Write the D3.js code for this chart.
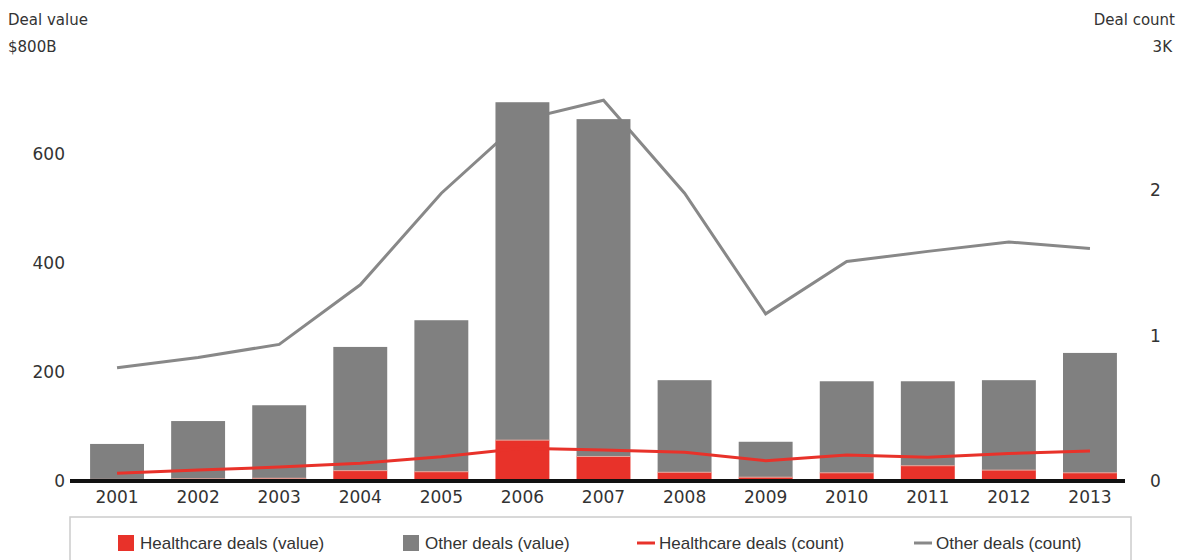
<!DOCTYPE html>
<html lang="en">
<head>
  <meta charset="UTF-8">
  <title>Deal value and count</title>
  <style>
    body { margin: 0; background: #fff; }
    svg { display: block; }
    text { font-family: "DejaVu Sans", sans-serif; fill: #333; }
    .legend text { font-family: "Liberation Sans Narrow", "Liberation Sans", sans-serif; font-size: 17px; }
  </style>
</head>
<body>
  <svg width="1190" height="560"></svg>
  <script src="https://d3js.org/d3.v7.min.js"></script>
  <script>
    const years = ["2001","2002","2003","2004","2005","2006","2007","2008","2009","2010","2011","2012","2013"];
    // deal value, $B
    const healthcareValue = [3, 4, 5, 19, 17, 75, 45, 16, 7, 15, 28, 20, 15];
    const otherValue = [65, 106, 134, 227, 278, 620, 619, 169, 65, 168, 155, 165, 220];
    // deal count, thousands
    const healthcareCount = [0.053, 0.076, 0.096, 0.122, 0.167, 0.225, 0.213, 0.197, 0.14, 0.179, 0.163, 0.19, 0.206];
    const otherCount = [0.78, 0.85, 0.94, 1.35, 1.98, 2.485, 2.62, 1.98, 1.15, 1.51, 1.58, 1.645, 1.60];
    const leftTicks = [0, 200, 400, 600];
    const rightTicks = [0, 1, 2];

    const red = "#e8322a";
    const grey = "#808080";
    const lineGrey = "#888";

    const svg = d3.select("svg");
    const baseY = 481, topY = 45;

    const x = d3.scaleBand().domain(years).range([76.5, 1130.5])
      .paddingInner(0.335).paddingOuter(0.1675);
    const yL = d3.scaleLinear().domain([0, 800]).range([baseY, topY]);
    const yR = d3.scaleLinear().domain([0, 3]).range([baseY, topY]);

    const rows = years.map((yr, i) => ({
      year: yr, hc: healthcareValue[i], other: otherValue[i],
      hcCount: healthcareCount[i], otherCount: otherCount[i]
    }));

    // left ticks
    svg.append("g").selectAll("text").data(leftTicks).join("text")
      .attr("x", 65).attr("y", d => yL(d)).attr("dy", "0.35em")
      .attr("text-anchor", "end").attr("font-size", 17)
      .text(d => d);
    // right ticks
    svg.append("g").selectAll("text").data(rightTicks).join("text")
      .attr("x", 1150).attr("y", d => yR(d)).attr("dy", "0.35em")
      .attr("text-anchor", "start").attr("font-size", 17)
      .text(d => d);

    svg.append("text").attr("x", 8).attr("y", 25).attr("font-size", 15).text("Deal value");
    svg.append("text").attr("x", 8).attr("y", 52).attr("font-size", 15).text("$800B");
    svg.append("text").attr("x", 1175).attr("y", 25).attr("font-size", 15)
      .attr("text-anchor", "end").text("Deal count");
    svg.append("text").attr("x", 1172).attr("y", 52).attr("font-size", 15)
      .attr("text-anchor", "end").text("3K");

    const cx = d => x(d.year) + x.bandwidth() / 2;

    // other count line (behind bars)
    svg.append("path").datum(rows)
      .attr("fill", "none").attr("stroke", lineGrey).attr("stroke-width", 3)
      .attr("d", d3.line().x(cx).y(d => yR(d.otherCount)));

    // stacked bars
    const bars = svg.append("g");
    bars.selectAll("rect.other").data(rows).join("rect")
      .attr("class", "other")
      .attr("x", d => x(d.year)).attr("width", x.bandwidth())
      .attr("y", d => yL(d.hc + d.other))
      .attr("height", d => yL(d.hc) - yL(d.hc + d.other))
      .attr("fill", grey);
    bars.selectAll("rect.hc").data(rows).join("rect")
      .attr("class", "hc")
      .attr("x", d => x(d.year)).attr("width", x.bandwidth())
      .attr("y", d => yL(d.hc))
      .attr("height", d => yL(0) - yL(d.hc))
      .attr("fill", red);
    bars.selectAll("line.sep").data(rows).join("line")
      .attr("class", "sep")
      .attr("x1", d => x(d.year)).attr("x2", d => x(d.year) + x.bandwidth())
      .attr("y1", d => yL(d.hc)).attr("y2", d => yL(d.hc))
      .attr("stroke", "#e0a89e").attr("stroke-width", 1);

    // healthcare count line
    svg.append("path").datum(rows)
      .attr("fill", "none").attr("stroke", red).attr("stroke-width", 3)
      .attr("d", d3.line().x(cx).y(d => yR(d.hcCount)));

    // baseline
    svg.append("line").attr("x1", 70).attr("x2", 1125)
      .attr("y1", baseY).attr("y2", baseY)
      .attr("stroke", "#111").attr("stroke-width", 4);

    // x labels
    svg.append("g").selectAll("text").data(years).join("text")
      .attr("x", d => x(d) + x.bandwidth() / 2).attr("y", 497).attr("dy", "0.35em")
      .attr("text-anchor", "middle").attr("font-size", 17)
      .text(d => d);

    // legend
    const legend = svg.append("g").attr("class", "legend");
    legend.append("rect").attr("x", 70).attr("y", 517).attr("width", 1061).attr("height", 60)
      .attr("fill", "#fff").attr("stroke", "#ccc").attr("stroke-width", 1.5);
    const items = [
      { label: "Healthcare deals (value)", color: red, kind: "box", x: 118 },
      { label: "Other deals (value)", color: grey, kind: "box", x: 403 },
      { label: "Healthcare deals (count)", color: red, kind: "line", x: 637 },
      { label: "Other deals (count)", color: lineGrey, kind: "line", x: 914 }
    ];
    const li = legend.selectAll("g.item").data(items).join("g").attr("class", "item")
      .attr("transform", d => `translate(${d.x},543)`);
    li.filter(d => d.kind === "box").append("rect")
      .attr("x", 0).attr("y", -8).attr("width", 16).attr("height", 16)
      .attr("fill", d => d.color);
    li.filter(d => d.kind === "line").append("line")
      .attr("x1", 0).attr("x2", 18).attr("y1", 0).attr("y2", 0)
      .attr("stroke", d => d.color).attr("stroke-width", 3);
    li.append("text")
      .attr("x", d => d.kind === "box" ? 22 : 22).attr("y", 0).attr("dy", "0.35em")
      .text(d => d.label);
  </script>
</body>
</html>
